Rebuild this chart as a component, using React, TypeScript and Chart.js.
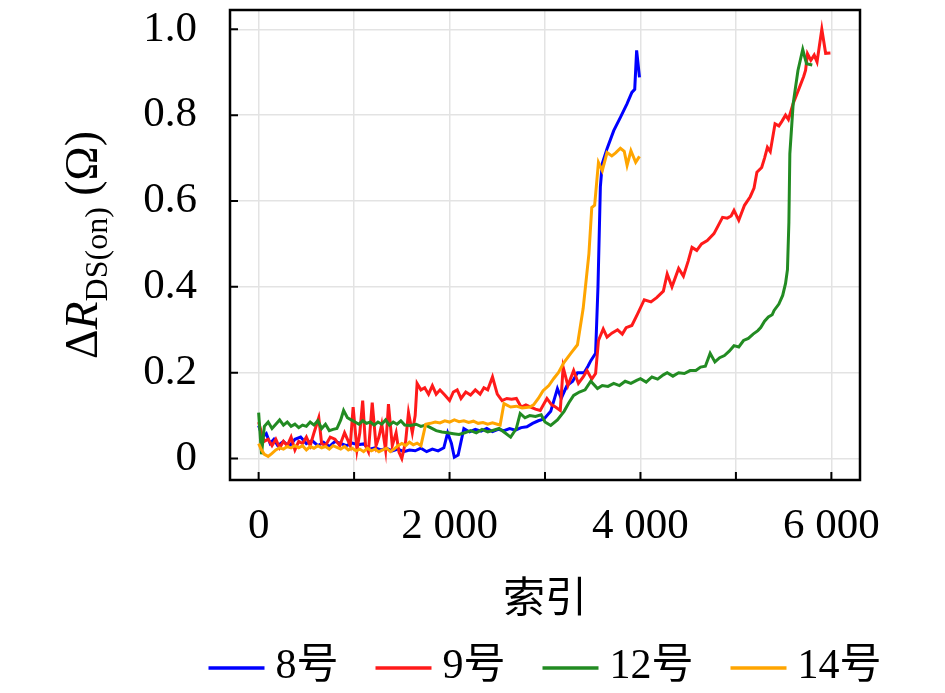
import React, { useEffect, useRef } from 'react';
import { Chart, registerables } from 'chart.js';

Chart.register(...registerables);

// series: [index, ΔR] pairs
const s8: [number, number][] = [
  [0, 0.077], [40, 0.05], [80, 0.058], [120, 0.035], [160, 0.045], [200, 0.03], [260, 0.04], [320, 0.028],
  [380, 0.045], [440, 0.05], [500, 0.035], [560, 0.042], [620, 0.03], [680, 0.038], [740, 0.028], [800, 0.04],
  [860, 0.035], [920, 0.03], [980, 0.036], [1040, 0.032], [1100, 0.034], [1160, 0.022], [1220, 0.025], [1280, 0.02],
  [1340, 0.024], [1400, 0.018], [1460, 0.022], [1520, 0.016], [1580, 0.02], [1640, 0.018], [1700, 0.024], [1760, 0.016],
  [1820, 0.022], [1880, 0.018], [1940, 0.025], [1980, 0.06], [2020, 0.035], [2050, 0.003], [2090, 0.008], [2150, 0.07],
  [2210, 0.062], [2270, 0.068], [2330, 0.064], [2390, 0.07], [2450, 0.063], [2510, 0.068], [2570, 0.065], [2630, 0.07],
  [2690, 0.066], [2750, 0.072], [2810, 0.074], [2870, 0.082], [2930, 0.088], [2990, 0.092], [3060, 0.11], [3130, 0.163],
  [3170, 0.14], [3230, 0.17], [3290, 0.18], [3340, 0.2], [3410, 0.2], [3450, 0.215], [3480, 0.228], [3530, 0.245],
  [3555, 0.4], [3580, 0.633], [3600, 0.687], [3650, 0.722], [3720, 0.764], [3790, 0.795], [3860, 0.827], [3910, 0.853],
  [3940, 0.86], [3960, 0.951], [3990, 0.888],
];

const s9: [number, number][] = [
  [0, 0.085], [30, 0.06], [60, 0.04], [100, 0.045], [140, 0.03], [180, 0.045], [220, 0.025], [260, 0.04],
  [300, 0.03], [340, 0.05], [380, 0.02], [420, 0.04], [460, 0.035], [500, 0.05], [540, 0.03], [580, 0.06],
  [630, 0.095], [660, 0.035], [700, 0.03], [750, 0.05], [800, 0.045], [850, 0.03], [900, 0.06], [960, 0.03],
  [990, 0.12], [1030, 0.02], [1060, 0.06], [1090, 0.135], [1120, 0.03], [1150, 0.016], [1190, 0.13], [1230, 0.03],
  [1260, 0.05], [1290, 0.08], [1330, 0.02], [1360, 0.127], [1400, 0.03], [1440, 0.06], [1470, 0.015], [1500, 0.0],
  [1540, 0.04], [1570, 0.107], [1610, 0.06], [1640, 0.1], [1660, 0.175], [1700, 0.16], [1740, 0.165], [1780, 0.15],
  [1820, 0.17], [1860, 0.15], [1900, 0.16], [1950, 0.148], [2000, 0.135], [2040, 0.155], [2080, 0.16], [2120, 0.14],
  [2170, 0.155], [2220, 0.148], [2270, 0.16], [2320, 0.15], [2360, 0.165], [2400, 0.16], [2450, 0.19], [2500, 0.15],
  [2550, 0.135], [2600, 0.14], [2650, 0.138], [2700, 0.14], [2750, 0.12], [2800, 0.125], [2850, 0.12], [2900, 0.115],
  [2950, 0.112], [3020, 0.14], [3070, 0.125], [3110, 0.12], [3160, 0.112], [3190, 0.213], [3240, 0.17], [3300, 0.205],
  [3350, 0.175], [3400, 0.19], [3440, 0.205], [3490, 0.185], [3530, 0.198], [3560, 0.275], [3610, 0.302], [3650, 0.283],
  [3700, 0.292], [3760, 0.3], [3810, 0.29], [3850, 0.305], [3910, 0.31], [3970, 0.337], [4040, 0.37], [4110, 0.365],
  [4170, 0.375], [4240, 0.39], [4280, 0.43], [4330, 0.4], [4400, 0.443], [4450, 0.425], [4500, 0.46], [4540, 0.492],
  [4590, 0.485], [4640, 0.5], [4700, 0.508], [4770, 0.524], [4820, 0.545], [4860, 0.562], [4910, 0.56], [4950, 0.565],
  [4980, 0.578], [5030, 0.555], [5090, 0.59], [5150, 0.61], [5190, 0.63], [5220, 0.667], [5270, 0.678], [5300, 0.7],
  [5330, 0.725], [5360, 0.715], [5410, 0.78], [5450, 0.775], [5480, 0.785], [5520, 0.8], [5550, 0.79], [5600, 0.827],
  [5640, 0.85], [5675, 0.87], [5710, 0.89], [5730, 0.905], [5750, 0.943], [5785, 0.928], [5820, 0.94], [5850, 0.924],
  [5900, 1.0], [5940, 0.944], [5990, 0.945],
];

const s12: [number, number][] = [
  [0, 0.107], [30, 0.01], [60, 0.075], [100, 0.085], [140, 0.07], [180, 0.08], [220, 0.09], [260, 0.078],
  [300, 0.085], [340, 0.075], [380, 0.08], [420, 0.072], [460, 0.078], [500, 0.075], [540, 0.085], [580, 0.078],
  [620, 0.088], [660, 0.07], [700, 0.08], [740, 0.065], [780, 0.068], [820, 0.07], [860, 0.09], [890, 0.112],
  [930, 0.095], [970, 0.09], [1010, 0.085], [1050, 0.08], [1090, 0.088], [1130, 0.082], [1170, 0.085], [1210, 0.078],
  [1250, 0.085], [1290, 0.08], [1330, 0.09], [1370, 0.078], [1410, 0.085], [1450, 0.08], [1490, 0.088], [1530, 0.078],
  [1590, 0.077], [1650, 0.08], [1700, 0.075], [1750, 0.078], [1800, 0.072], [1860, 0.065], [1920, 0.062], [1980, 0.06],
  [2040, 0.058], [2100, 0.056], [2160, 0.06], [2220, 0.065], [2280, 0.06], [2340, 0.068], [2400, 0.062], [2460, 0.066],
  [2520, 0.07], [2580, 0.06], [2640, 0.05], [2700, 0.07], [2740, 0.105], [2790, 0.095], [2840, 0.1], [2900, 0.098],
  [2960, 0.102], [3000, 0.085], [3060, 0.077], [3130, 0.09], [3200, 0.11], [3250, 0.13], [3300, 0.147], [3360, 0.155],
  [3420, 0.16], [3480, 0.18], [3550, 0.163], [3600, 0.17], [3660, 0.168], [3720, 0.175], [3780, 0.17], [3840, 0.18],
  [3900, 0.175], [3960, 0.182], [4000, 0.186], [4060, 0.178], [4120, 0.19], [4180, 0.185], [4240, 0.195], [4280, 0.2],
  [4340, 0.192], [4400, 0.2], [4460, 0.198], [4520, 0.205], [4580, 0.205], [4630, 0.213], [4680, 0.215], [4730, 0.245],
  [4780, 0.225], [4830, 0.235], [4880, 0.24], [4930, 0.25], [4980, 0.263], [5030, 0.26], [5080, 0.275], [5130, 0.28],
  [5180, 0.29], [5230, 0.298], [5260, 0.305], [5300, 0.32], [5340, 0.33], [5380, 0.335], [5400, 0.345], [5450, 0.36],
  [5490, 0.38], [5520, 0.408], [5540, 0.44], [5555, 0.55], [5565, 0.71], [5600, 0.827], [5650, 0.904], [5700, 0.953],
  [5740, 0.92], [5800, 0.917],
];

const s14: [number, number][] = [
  [0, 0.035], [30, 0.02], [60, 0.01], [100, 0.005], [140, 0.012], [180, 0.02], [220, 0.025], [260, 0.022],
  [300, 0.028], [340, 0.025], [380, 0.03], [420, 0.025], [460, 0.03], [500, 0.02], [540, 0.028], [580, 0.024],
  [620, 0.03], [660, 0.025], [700, 0.028], [740, 0.022], [780, 0.03], [820, 0.026], [860, 0.022], [900, 0.028],
  [940, 0.02], [980, 0.024], [1020, 0.018], [1060, 0.022], [1100, 0.016], [1140, 0.024], [1180, 0.018], [1220, 0.022],
  [1260, 0.016], [1300, 0.02], [1340, 0.024], [1380, 0.016], [1420, 0.022], [1460, 0.03], [1500, 0.035], [1540, 0.03],
  [1580, 0.038], [1620, 0.032], [1660, 0.036], [1700, 0.03], [1750, 0.08], [1800, 0.082], [1850, 0.085], [1900, 0.083],
  [1950, 0.088], [2000, 0.085], [2050, 0.09], [2100, 0.086], [2150, 0.088], [2200, 0.084], [2250, 0.087], [2300, 0.082],
  [2350, 0.084], [2400, 0.08], [2450, 0.083], [2500, 0.08], [2530, 0.078], [2570, 0.128], [2640, 0.12], [2700, 0.122],
  [2760, 0.118], [2840, 0.12], [2880, 0.125], [2930, 0.14], [2980, 0.158], [3040, 0.17], [3090, 0.186], [3140, 0.2],
  [3200, 0.224], [3270, 0.245], [3340, 0.265], [3400, 0.35], [3460, 0.477], [3490, 0.585], [3520, 0.59], [3560, 0.69],
  [3600, 0.671], [3650, 0.713], [3700, 0.705], [3740, 0.712], [3790, 0.723], [3830, 0.716], [3860, 0.683], [3900, 0.717],
  [3950, 0.69], [3990, 0.704],
];

const seriesNames = ['8号', '9号', '12号', '14号'];
const seriesColors = ['#0000ff', '#ff1a1a', '#228b22', '#ffa500'];
const seriesData = [s8, s9, s12, s14];

const xTicks = [0, 1000, 2000, 3000, 4000, 5000, 6000];
const xTickLabels = ['0', '', '2 000', '', '4 000', '', '6 000'];
const yTicks = [0, 0.2, 0.4, 0.6, 0.8, 1.0];
const yTickLabels = ['0', '0.2', '0.4', '0.6', '0.8', '1.0'];

const SERIF = "'Liberation Serif', 'Noto Sans CJK SC', serif";

// frame, inward tick marks, y title with subscript and the legend row
const framePlugin = {
  id: 'frame',
  afterDraw(chart: any) {
    const { ctx, chartArea: a, scales } = chart;
    ctx.save();
    ctx.strokeStyle = '#000';
    ctx.lineWidth = 2;
    ctx.beginPath();
    xTicks.forEach((v) => {
      const px = scales.x.getPixelForValue(v);
      ctx.moveTo(px, a.bottom);
      ctx.lineTo(px, a.bottom - 8);
    });
    yTicks.forEach((v) => {
      const py = scales.y.getPixelForValue(v);
      ctx.moveTo(a.left, py);
      ctx.lineTo(a.left + 8, py);
    });
    ctx.stroke();
    ctx.lineWidth = 2.5;
    ctx.strokeRect(a.left, a.top, a.right - a.left, a.bottom - a.top);

    // y axis title: ΔR_DS(on) (Ω)
    const parts = [
      { t: 'Δ', f: `46px ${SERIF}`, dy: 0 },
      { t: 'R', f: `italic 46px ${SERIF}`, dy: 0 },
      { t: 'DS(on)', f: `32px ${SERIF}`, dy: 10 },
      { t: ' (Ω)', f: `46px ${SERIF}`, dy: 0 },
    ];
    let total = 0;
    const widths = parts.map((p) => {
      ctx.font = p.f;
      const w = ctx.measureText(p.t).width;
      total += w;
      return w;
    });
    ctx.save();
    ctx.translate(97, 245);
    ctx.rotate(-Math.PI / 2);
    ctx.fillStyle = '#000';
    ctx.textBaseline = 'alphabetic';
    ctx.textAlign = 'left';
    let x = -total / 2;
    parts.forEach((p, i) => {
      ctx.font = p.f;
      ctx.fillText(p.t, x, p.dy);
      x += widths[i];
    });
    ctx.restore();

    // legend below the axis title, centred on the plot area
    const lineLen = 56;
    const gap = 11;
    const spacing = 37;
    const ly = 668;
    ctx.font = `42px ${SERIF}`;
    const tw = seriesNames.map((n) => ctx.measureText(n).width);
    const legendW =
      tw.reduce((s, w) => s + w, 0) + seriesNames.length * (lineLen + gap) + (seriesNames.length - 1) * spacing;
    let lx = (a.left + a.right) / 2 - legendW / 2;
    ctx.textBaseline = 'middle';
    ctx.textAlign = 'left';
    ctx.fillStyle = '#000';
    seriesNames.forEach((n, i) => {
      ctx.strokeStyle = seriesColors[i];
      ctx.lineWidth = 3.5;
      ctx.beginPath();
      ctx.moveTo(lx, ly);
      ctx.lineTo(lx + lineLen, ly);
      ctx.stroke();
      lx += lineLen + gap;
      ctx.fillText(n, lx, ly - 1);
      lx += tw[i] + spacing;
    });
    ctx.restore();
  },
};

const App: React.FC = () => {
  const canvasRef = useRef<HTMLCanvasElement | null>(null);
  const chartRef = useRef<Chart | null>(null);

  useEffect(() => {
    document.body.style.margin = '0';
    if (!canvasRef.current) return;
    const ctx = canvasRef.current.getContext('2d');
    if (!ctx) return;
    if (chartRef.current) chartRef.current.destroy();

    chartRef.current = new Chart(ctx, {
      type: 'line',
      data: {
        datasets: seriesNames.map((name, i) => ({
          label: name,
          data: seriesData[i].map(([x, y]) => ({ x, y })),
          borderColor: seriesColors[i],
          backgroundColor: seriesColors[i],
          borderWidth: 3,
          pointRadius: 0,
          tension: 0,
          order: seriesNames.length - i,
        })),
      },
      options: {
        responsive: false,
        animation: false,
        layout: { autoPadding: false, padding: { top: 10, right: 85, bottom: 67, left: 0 } },
        plugins: {
          tooltip: { enabled: false },
          legend: { display: false },
        },
        scales: {
          x: {
            type: 'linear',
            min: -300,
            max: 6300,
            afterFit: (scale: any) => {
              scale.height = 146;
              scale.paddingLeft = 0;
              scale.paddingRight = 0;
            },
            afterBuildTicks: (scale: any) => {
              scale.ticks = xTicks.map((v) => ({ value: v }));
            },
            ticks: {
              padding: 21,
              color: '#000',
              font: { family: SERIF, size: 43 },
              maxRotation: 0,
              autoSkip: false,
              callback: (_v: any, i: number) => xTickLabels[i],
            },
            grid: { color: '#e3e3e3', lineWidth: 1.5, drawTicks: false },
            border: { display: false },
            title: {
              display: true,
              text: '索引',
              color: '#000',
              font: { family: SERIF, size: 42 },
              padding: { top: 0, bottom: 0 },
            },
          },
          y: {
            type: 'linear',
            min: -0.05,
            max: 1.045,
            afterFit: (scale: any) => {
              scale.width = 230;
              scale.paddingTop = 0;
              scale.paddingBottom = 0;
            },
            afterBuildTicks: (scale: any) => {
              scale.ticks = yTicks.map((v) => ({ value: v }));
            },
            ticks: {
              padding: 33,
              color: '#000',
              font: { family: SERIF, size: 43 },
              autoSkip: false,
              callback: (_v: any, i: number) => yTickLabels[i],
            },
            grid: { color: '#e3e3e3', lineWidth: 1.5, drawTicks: false },
            border: { display: false },
          },
        },
      },
      plugins: [framePlugin],
    });

    return () => {
      if (chartRef.current) {
        chartRef.current.destroy();
        chartRef.current = null;
      }
    };
  }, []);

  return (
    <div style={{ width: 945, height: 693, background: '#fff' }}>
      <canvas ref={canvasRef} width={945} height={693} />
    </div>
  );
};

export default App;
